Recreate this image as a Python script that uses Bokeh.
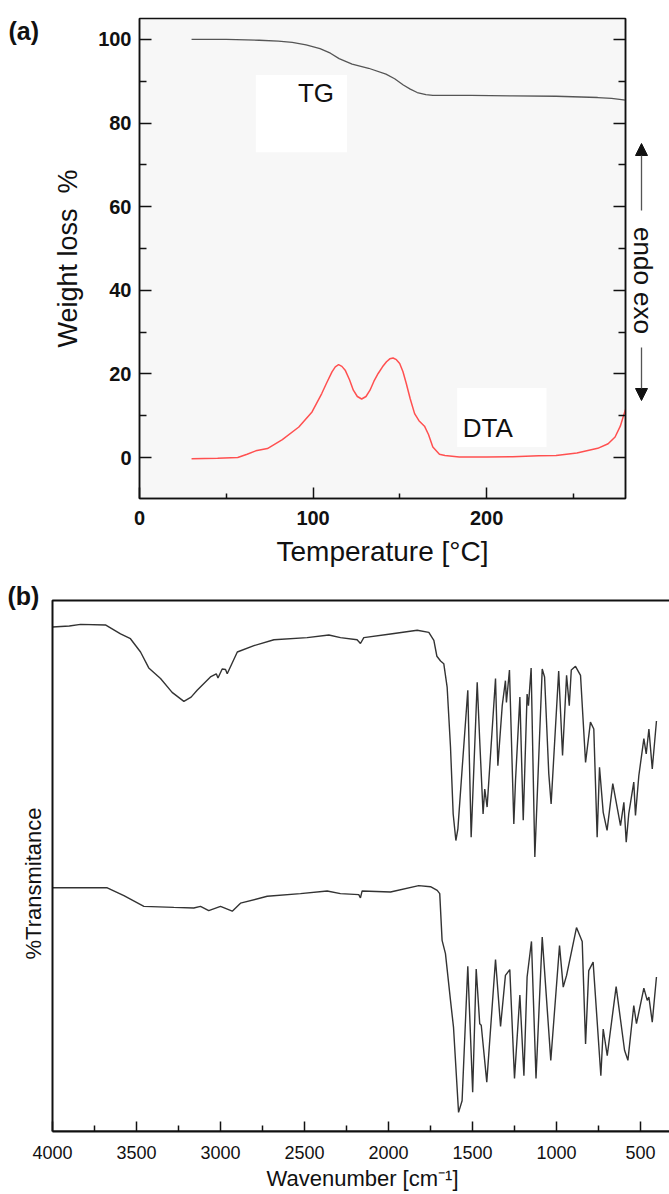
import math
from bokeh.plotting import figure
from bokeh.layouts import column, row
from bokeh.models import (Range1d, LinearAxis, FixedTicker, Label, Arrow,
                          NormalHead, BoxAnnotation)
from bokeh.embed import file_html
from bokeh.resources import INLINE

# ---------------- Panel (a): thermal analysis ----------------
tg_temp = [30, 50, 69, 80, 88, 96, 104, 110, 115, 122.5, 132, 142, 147, 152,
           156, 160, 165, 169, 175, 191, 215, 240, 264, 272, 280]
tg_weight = [100, 100, 99.8, 99.6, 99.3, 98.7, 97.8, 96.7, 95.4, 94.1, 93.1,
             91.7, 90.6, 89.1, 88.1, 87.3, 86.8, 86.6, 86.6, 86.6, 86.5, 86.4,
             86.1, 85.9, 85.5]

dta_temp = [30, 45, 56.6, 62, 67, 73.7, 82.3, 91.8, 99.4, 105, 108, 110.9,
            112.8, 114.7, 116.6, 118.5, 121, 123.2, 125.5, 128, 130.5, 132.8,
            135, 137.5, 140, 142.3, 144.2, 146.1, 148, 149.9, 151.8, 153.7,
            156, 158.5, 161, 164.2, 166.5, 169, 172.8, 176, 184.2, 200, 215,
            230, 240, 252, 264, 270, 274, 277, 280]
dta_signal = [-0.3, -0.2, 0, 0.8, 1.6, 2.15, 4.3, 7.3, 10.9, 15.3, 18.0, 20.5,
              21.7, 22.2, 21.8, 20.9, 18.6, 16.1, 14.6, 14.0, 14.6, 16.1,
              18.2, 20.1, 21.7, 22.9, 23.6, 23.8, 23.4, 22.5, 20.5, 17.7,
              14.0, 10.5, 8.8, 7.5, 5.5, 2.5, 0.8, 0.5, 0.15, 0.1, 0.2,
              0.4, 0.5, 1.1, 2.2, 3.3, 4.9, 7.5, 11.5]

temp_ticks = [0, 100, 200]
temp_minor = [50, 150, 250]
weight_ticks = [0, 20, 40, 60, 80, 100]
weight_minor = [10, 30, 50, 70, 90]

# ---------------- Panel (b): IR spectra ----------------
ir1_wn = [4000, 3900, 3833, 3685, 3595, 3536, 3476, 3427, 3357, 3288,
          3218, 3175, 3139, 3060, 3025, 3015, 2990, 2970, 2960, 2900,
          2801, 2682, 2484, 2355, 2286, 2187, 2167, 2147, 1988, 1829,
          1760, 1730, 1712, 1690, 1671, 1651, 1631, 1615, 1599, 1587,
          1561, 1528, 1508, 1472, 1457, 1437, 1427, 1413, 1363, 1349,
          1323, 1304, 1298, 1280, 1254, 1244, 1218, 1198, 1175, 1167,
          1151, 1129, 1085, 1071, 1046, 1032, 987, 964, 940, 924,
          912, 887, 857, 827, 798, 778, 758, 744, 722, 699,
          665, 619, 599, 585, 570, 540, 530, 510, 480, 466,
          450, 430, 405]
ir1_t = [95.0, 95.2, 95.5, 95.4, 93.7, 92.8, 90.3, 87.3, 85.3, 82.7,
         81.0, 81.8, 83.1, 85.6, 86.2, 85.4, 87.1, 87.0, 86.2, 90.3,
         91.5, 92.6, 93.0, 93.5, 93.0, 92.6, 91.9, 93.0, 93.7, 94.4,
         94.0, 92.5, 89.5, 88.6, 88.1, 83.7, 72.4, 59.8, 54.8, 57.0,
         68.6, 83.1, 55.4, 84.6, 73.6, 59.8, 64.5, 61.1, 85.3, 68.9,
         80.2, 84.9, 80.8, 86.9, 57.9, 66.1, 81.8, 58.6, 82.4, 80.2,
         87.3, 51.7, 87.1, 85.6, 67.4, 61.7, 86.7, 70.8, 85.9, 80.2,
         86.9, 87.6, 85.9, 69.5, 77.1, 75.8, 55.4, 68.6, 60.1, 56.7,
         65.5, 57.6, 62.0, 54.5, 59.8, 65.8, 59.5, 67.0, 74.0, 71.1,
         75.8, 68.3, 77.3]

ir2_wn = [4000, 3674, 3575, 3456, 3278, 3159, 3119, 3070, 3000, 2930,
          2881, 2722, 2524, 2365, 2286, 2177, 2167, 2157, 1988, 1820,
          1750, 1710, 1695, 1681, 1661, 1631, 1613, 1583, 1562, 1528,
          1499, 1478, 1457, 1448, 1415, 1363, 1333, 1304, 1278, 1250,
          1218, 1194, 1175, 1149, 1122, 1085, 1034, 982, 960, 940,
          881, 847, 827, 808, 782, 736, 722, 698, 645, 595,
          575, 540, 524, 480, 460, 450, 430, 405]
ir2_t = [45.9, 45.9, 44.4, 42.4, 42.2, 42.1, 42.4, 41.6, 42.4, 41.5,
         43.0, 44.3, 44.8, 45.3, 44.8, 44.6, 44.0, 45.3, 45.1, 46.3,
         46.1, 45.4, 44.8, 36.0, 33.5, 24.7, 19.6, 3.6, 5.8, 31.1,
         7.4, 30.6, 20.3, 20.0, 9.3, 32.4, 19.8, 29.4, 30.5, 10.0,
         25.7, 10.5, 29.1, 35.8, 10.0, 36.6, 13.4, 35.0, 27.2, 29.4,
         38.4, 35.8, 16.5, 30.3, 31.9, 10.5, 19.3, 14.3, 27.3, 15.3,
         13.4, 23.7, 20.3, 27.0, 24.7, 25.3, 20.6, 29.1]

wn_ticks = [4000, 3500, 3000, 2500, 2000, 1500, 1000, 500]
wn_minor = [3750, 3250, 2750, 2250, 1750, 1250, 750]
wn_start, wn_end = 4000, 327.4       # plotted span of the spectra axis
t_top = 100                          # top of the spectra box

FONT = "Liberation Sans"
INK = "#111111"


def side_panel(w, h):
    f = figure(width=w, height=h, x_range=Range1d(0, w), y_range=Range1d(0, h),
               output_backend="svg", toolbar_location=None, min_border=0,
               x_axis_location=None, y_axis_location=None, frame_align=False)
    f.grid.visible = False
    f.outline_line_color = None
    f.background_fill_color = "white"
    f.border_fill_color = "white"
    return f


def style_axis(ax, label_size, title_size, bold):
    ax.axis_line_color = INK
    ax.axis_line_width = 1.5
    ax.major_tick_line_color = INK
    ax.minor_tick_line_color = INK
    ax.major_tick_line_width = 1.5
    ax.minor_tick_line_width = 1.5
    ax.major_tick_out = 0
    ax.minor_tick_out = 0
    ax.major_label_text_font = FONT
    ax.major_label_text_font_style = "bold" if bold else "normal"
    ax.major_label_text_font_size = label_size
    ax.major_label_text_color = INK
    ax.axis_label_text_font = FONT
    ax.axis_label_text_font_style = "normal"
    ax.axis_label_text_font_size = title_size
    ax.axis_label_text_color = INK


# ================= panel (a) =================
TOP_H = 580
fa = side_panel(50, TOP_H)
fa.add_layout(Label(x=8, y=TOP_H - 30, text="(a)", text_align="left",
                    text_baseline="middle", text_font=FONT,
                    text_font_style="bold", text_font_size="25px",
                    text_color=INK))

p1 = figure(width=578, height=TOP_H, x_range=Range1d(0, 280),
            y_range=Range1d(-9.8, 105), output_backend="svg",
            toolbar_location=None, min_border_left=85, min_border_right=3,
            min_border_top=18, min_border_bottom=82, frame_align=False)
p1.background_fill_color = "#f7f7f7"
p1.border_fill_color = "white"
p1.outline_line_color = INK
p1.outline_line_width = 1.5
p1.grid.visible = False

# white label backgrounds
p1.add_layout(BoxAnnotation(left=67, right=119.5, bottom=73, top=91.5,
                            fill_color="white", fill_alpha=1, line_color=None,
                            level="underlay"))
p1.add_layout(BoxAnnotation(left=183, right=234.5, bottom=2.5, top=16.6,
                            fill_color="white", fill_alpha=1, line_color=None,
                            level="underlay"))

p1.line(tg_temp, tg_weight, line_color="#555555", line_width=1.3)
p1.line(dta_temp, dta_signal, line_color="#ff5050", line_width=1.5)

xa = p1.xaxis[0]
xa.ticker = FixedTicker(ticks=temp_ticks, minor_ticks=temp_minor)
ya = p1.yaxis[0]
ya.ticker = FixedTicker(ticks=weight_ticks, minor_ticks=weight_minor)
ra = LinearAxis(ticker=FixedTicker(ticks=weight_ticks, minor_ticks=weight_minor))
p1.add_layout(ra, "right")
for ax in (xa, ya, ra):
    style_axis(ax, "20px", "28px", True)
xa.major_tick_in = 11
xa.minor_tick_in = 5
ya.major_tick_in = 12
ya.minor_tick_in = 7
ra.major_tick_in = 12
ra.minor_tick_in = 7
ra.major_label_text_font_size = "0px"
ra.major_label_text_color = None
ra.major_label_standoff = 0
xa.major_label_standoff = 12
ya.major_label_standoff = 8
xa.axis_label = "Temperature [°C]"
ya.axis_label = "Weight loss\u00a0 %"
ya.axis_label_text_font_size = "27px"
xa.axis_label_standoff = 8
ya.axis_label_standoff = 12

p1.add_layout(Label(x=101.7, y=87.2, text="TG", text_align="center",
                    text_baseline="middle", text_font=FONT,
                    text_font_size="26px", text_color=INK))
p1.add_layout(Label(x=200.6, y=7.0, text="DTA", text_align="center",
                    text_baseline="middle", text_font=FONT,
                    text_font_size="26px", text_color=INK))

fr = side_panel(41, TOP_H)
fr.add_layout(Label(x=14, y=TOP_H - 280, text="endo exo", text_align="center",
                    text_baseline="middle", angle=-math.pi / 2,
                    text_font=FONT, text_font_size="26px", text_color=INK))
fr.add_layout(Arrow(end=NormalHead(size=12, fill_color=INK, line_color=INK),
                    x_start=13, y_start=TOP_H - 210, x_end=13,
                    y_end=TOP_H - 143, line_color="#555555", line_width=1.3))
fr.add_layout(Arrow(end=NormalHead(size=12, fill_color=INK, line_color=INK),
                    x_start=13, y_start=TOP_H - 347, x_end=13,
                    y_end=TOP_H - 400, line_color="#555555", line_width=1.3))

# ================= panel (b) =================
BOT_H = 614
PX_LEFT = 52          # left edge of the spectra box inside the canvas
FRAME_H = BOT_H - 63  # frame from canvas top to bottom axis
BOX_H = FRAME_H - 20  # box height (top line 20 px below canvas top)
units_per_px = (wn_start - wn_end) / (669 - PX_LEFT)

p2 = figure(width=669, height=BOT_H,
            x_range=Range1d(wn_start + PX_LEFT * units_per_px, wn_end),
            y_range=Range1d(0, t_top * FRAME_H / BOX_H), output_backend="svg",
            toolbar_location=None, min_border_left=0, min_border_right=0,
            min_border_top=0, min_border_bottom=63, y_axis_location=None,
            frame_align=False)
p2.background_fill_color = "white"
p2.border_fill_color = "white"
p2.outline_line_color = None
p2.grid.visible = False

# spectra box (left, top and bottom edges; right edge lies off-canvas)
p2.add_layout(BoxAnnotation(left=wn_start, right=0, bottom=0, top=t_top,
                            fill_alpha=0, line_color=INK, line_alpha=1,
                            line_width=2))

p2.line(ir1_wn, ir1_t, line_color="#333333", line_width=1.4)
p2.line(ir2_wn, ir2_t, line_color="#333333", line_width=1.4)

bx = p2.xaxis[0]
bx.ticker = FixedTicker(ticks=wn_ticks, minor_ticks=wn_minor)
style_axis(bx, "18px", "22px", False)
bx.axis_line_width = 2
bx.bounds = (wn_end, wn_start)
bx.major_tick_in = 10
bx.minor_tick_in = 6
bx.major_label_standoff = 14
# leading no-break spaces centre the title under the box instead of the canvas
bx.axis_label = "\u00a0" * 9 + "Wavenumber [cm⁻¹]"
bx.axis_label_standoff = 4

p2.add_layout(Label(x=wn_start + (PX_LEFT - 7) * units_per_px,
                    y=t_top + 5 * t_top / BOX_H, text="(b)",
                    text_align="left", text_baseline="middle", text_font=FONT,
                    text_font_style="bold", text_font_size="25px",
                    text_color=INK))
p2.add_layout(Label(x=wn_start + (PX_LEFT - 33) * units_per_px, y=46.7,
                    text="%Transmitance", text_align="center",
                    text_baseline="middle", angle=math.pi / 2,
                    text_font=FONT, text_font_size="22px", text_color=INK))

layout = column(row(fa, p1, fr, spacing=0), p2, spacing=0)
open("out.html", "w").write(file_html(layout, INLINE))
